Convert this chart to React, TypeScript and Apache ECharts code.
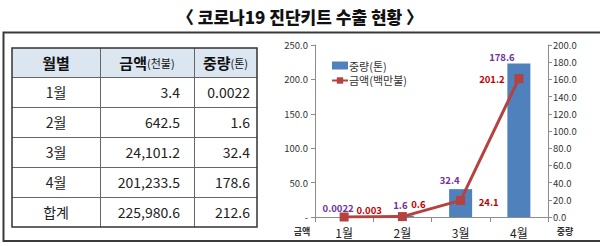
import React, { useEffect, useRef } from "react";
import * as echarts from "echarts";

const TITLE = "〈 코로나19 진단키트 수출 현황 〉";
const months = ["1월", "2월", "3월", "4월"];
const weightTon = [0.0022, 1.6, 32.4, 178.6];
const amountMillionUSD = [0.003, 0.6, 24.1, 201.2];

const tableRowLabels = ["1월", "2월", "3월", "4월", "합계"];
const tableAmount = ["3.4", "642.5", "24,101.2", "201,233.5", "225,980.6"];
const tableWeight = ["0.0022", "1.6", "32.4", "178.6", "212.6"];

const barLabelOffsets = [[-6, 1], [-2, -1], [-11, 1], [-17, 3]];
const lineLabelOffsets = [[25, -7], [16, -13], [28, 2], [-27, 0]];

const FONT = "'Noto Sans CJK KR', 'Noto Sans', sans-serif";

export default function App() {
  const ref = useRef<HTMLDivElement>(null);
  useEffect(() => {
    if (!ref.current) return;
    const chart = echarts.init(ref.current, null, { renderer: "svg" });

    const colX = [12, 100, 194, 257];
    const rowY = [48, 77, 107, 137, 167, 197, 227];
    const g: any[] = [];
    g.push({
      type: "text",
      x: 300,
      y: 16,
      style: { text: TITLE, fontSize: 17, fontWeight: 900, fontFamily: FONT, fill: "#111", align: "center", verticalAlign: "middle" },
    });
    g.push({
      type: "rect",
      shape: { x: 3.5, y: 32.5, width: 610, height: 208.5 },
      style: { fill: "none", stroke: "#3a3a3a", lineWidth: 2 },
    });
    g.push({
      type: "rect",
      shape: { x: colX[0], y: rowY[0], width: colX[3] - colX[0], height: rowY[1] - rowY[0] },
      style: { fill: "#dce6f1" },
    });
    for (let i = 1; i < rowY.length - 1; i++) {
      g.push({ type: "line", shape: { x1: colX[0], y1: rowY[i] + 0.5, x2: colX[3], y2: rowY[i] + 0.5 }, style: { stroke: "#666", lineWidth: 1 } });
    }
    for (let j = 1; j < colX.length - 1; j++) {
      g.push({ type: "line", shape: { x1: colX[j] + 0.5, y1: rowY[0], x2: colX[j] + 0.5, y2: rowY[rowY.length - 1] }, style: { stroke: "#666", lineWidth: 1 } });
    }
    g.push({
      type: "rect",
      shape: { x: colX[0], y: rowY[0], width: colX[3] - colX[0], height: rowY[rowY.length - 1] - rowY[0] },
      style: { fill: "none", stroke: "#333", lineWidth: 1.5 },
    });
    const hy = (rowY[0] + rowY[1]) / 2;
    const headerRich = {
      b: { fontSize: 15, fontWeight: "bold", fontFamily: FONT, fill: "#111" },
      s: { fontSize: 11, fontFamily: FONT, fill: "#111" },
    };
    g.push({ type: "text", x: (colX[0] + colX[1]) / 2, y: hy, style: { text: "{b|월별}", rich: headerRich, align: "center", verticalAlign: "middle" } });
    g.push({ type: "text", x: (colX[1] + colX[2]) / 2, y: hy, style: { text: "{b|금액}{s|(천불)}", rich: headerRich, align: "center", verticalAlign: "middle" } });
    g.push({ type: "text", x: (colX[2] + colX[3]) / 2, y: hy, style: { text: "{b|중량}{s|(톤)}", rich: headerRich, align: "center", verticalAlign: "middle" } });
    tableRowLabels.forEach((lab, i) => {
      const cy = (rowY[i + 1] + rowY[i + 2]) / 2;
      const st = { fontSize: 14, fontFamily: FONT, fill: "#222", verticalAlign: "middle" };
      g.push({ type: "text", x: (colX[0] + colX[1]) / 2, y: cy, style: { ...st, text: lab, align: "center" } });
      g.push({ type: "text", x: colX[2] - 14, y: cy, style: { ...st, text: tableAmount[i], align: "right" } });
      g.push({ type: "text", x: colX[3] - 7, y: cy, style: { ...st, text: tableWeight[i], align: "right" } });
    });
    g.push({ type: "text", x: 302, y: 231, style: { text: "금액", fontSize: 9, fontWeight: "bold", fontFamily: FONT, fill: "#333", align: "center", verticalAlign: "middle" } });
    g.push({ type: "text", x: 565, y: 231, style: { text: "중량", fontSize: 9, fontWeight: "bold", fontFamily: FONT, fill: "#333", align: "center", verticalAlign: "middle" } });

    const axisLine = { show: true, lineStyle: { color: "#8c8c8c", width: 1 } };
    chart.setOption({
      animation: false,
      backgroundColor: "#fff",
      textStyle: { fontFamily: FONT },
      graphic: g,
      legend: {
        orient: "vertical",
        left: 326,
        top: 55,
        itemWidth: 16,
        itemHeight: 8,
        itemGap: 4,
        textStyle: { fontSize: 11, color: "#333", fontFamily: FONT, padding: [0, 0, 0, -4] },
        data: [
          { name: "중량(톤)", icon: "rect" },
          { name: "금액(백만불)" },
        ],
      },
      grid: { left: 315, right: 52, top: 45, bottom: 29 },
      xAxis: {
        type: "category",
        data: months,
        axisLine,
        axisTick: { show: true, lineStyle: { color: "#8c8c8c" } },
        axisLabel: { fontSize: 12, color: "#222", margin: 9, fontFamily: FONT },
      },
      yAxis: [
        {
          type: "value",
          min: 0,
          max: 250,
          interval: 50,
          position: "left",
          axisLine,
          axisTick: { show: true, length: 4, lineStyle: { color: "#8c8c8c" } },
          splitLine: { show: false },
          axisLabel: { fontSize: 9.5, color: "#333", margin: 7, formatter: (v: number) => (v === 0 ? "-" : v.toFixed(1)) },
        },
        {
          type: "value",
          min: 0,
          max: 200,
          interval: 20,
          position: "right",
          axisLine,
          axisTick: { show: true, length: 4, lineStyle: { color: "#8c8c8c" } },
          splitLine: { show: false },
          axisLabel: { fontSize: 9.5, color: "#333", margin: 5, formatter: (v: number) => v.toFixed(1) },
        },
      ],
      series: [
        {
          name: "중량(톤)",
          type: "bar",
          yAxisIndex: 1,
          barWidth: 23,
          itemStyle: { color: "#4f81bd" },
          data: weightTon.map((v, i) => ({
            value: v,
            label: { offset: barLabelOffsets[i] },
          })),
          label: { show: true, position: "top", color: "#7030a0", fontSize: 9.5, fontWeight: "bold", fontFamily: FONT },
          z: 2,
        },
        {
          name: "금액(백만불)",
          type: "line",
          yAxisIndex: 0,
          symbol: "rect",
          symbolSize: 9,
          lineStyle: { color: "#b5423e", width: 3 },
          itemStyle: { color: "#b5423e" },
          data: amountMillionUSD.map((v, i) => ({
            value: v,
            label: { offset: lineLabelOffsets[i] },
          })),
          label: { show: true, position: "inside", color: "#c00000", fontSize: 9.5, fontWeight: "bold", fontFamily: FONT },
          z: 3,
        },
      ],
    });
    return () => chart.dispose();
  }, []);
  return <div ref={ref} style={{ position: "fixed", left: 0, top: 0, width: 600, height: 246, background: "#fff" }} />;
}
